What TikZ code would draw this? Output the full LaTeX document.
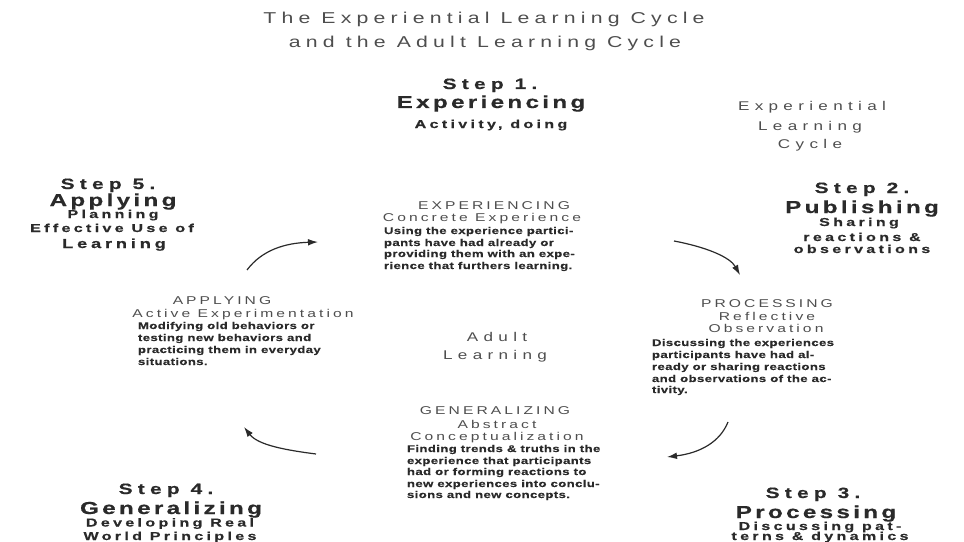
\documentclass[tikz,border=0pt]{standalone}
\usepackage{fontspec}
\usetikzlibrary{arrows.meta}
% Extended, tracked sans faces for the different text levels
\newfontfamily\ttlfont[FakeStretch=1.35,LetterSpace=33]{Liberation Sans}
\newfontfamily\wideface[FakeStretch=1.35,LetterSpace=42]{Liberation Sans}
\newfontfamily\headface[FakeStretch=1.38,LetterSpace=27]{Liberation Sans}
\newfontfamily\stepface[FakeStretch=1.4,LetterSpace=35,BoldFeatures={FakeBold=0.6}]{Liberation Sans}
\newfontfamily\nameface[FakeStretch=1.4,LetterSpace=19,BoldFeatures={FakeBold=0.6}]{Liberation Sans}
\newfontfamily\subface[FakeStretch=1.4,LetterSpace=29,BoldFeatures={FakeBold=0.5}]{Liberation Sans}
\newfontfamily\bodyface[FakeStretch=1.35,LetterSpace=4,BoldFeatures={FakeBold=0.4}]{Liberation Sans}
\definecolor{ink}{HTML}{2A2A2A}
\definecolor{greyink}{HTML}{4E4E4E}
\tikzset{
  every node/.style={inner sep=0pt, outer sep=0pt},
  titletext/.style={anchor=base, text=greyink, font=\ttlfont\fontsize{11.8}{14}\selectfont},
  widetext/.style={anchor=base, text=greyink, font=\wideface\fontsize{9.5}{11}\selectfont},
  headtext/.style={anchor=base, text=greyink, font=\headface\fontsize{8.5}{10}\selectfont},
  steptext/.style={anchor=base, text=ink, font=\stepface\bfseries\fontsize{11.2}{13}\selectfont},
  nametext/.style={anchor=base, text=ink, font=\nameface\bfseries\fontsize{13}{15}\selectfont},
  subtext/.style={anchor=base, text=ink, font=\subface\bfseries\fontsize{8.6}{10}\selectfont},
  bodytext/.style={anchor=base west, text=ink, font=\bodyface\bfseries\fontsize{7.3}{9}\selectfont},
  cyclearrow/.style={draw=ink, line width=0.9pt, -{Latex[length=7.5pt,width=5pt]}}
}
\begin{document}
\begin{tikzpicture}[x=0.75pt,y=-0.75pt]
\useasboundingbox (0,0) rectangle (964,542);

% Title
\node[titletext] (t1) at (484,24) {The Experiential Learning Cycle};
\node[titletext] (t2) at (485,48) {and the Adult Learning Cycle};

% Outer label
\node[widetext] (x1) at (812,110) {Experiential};
\node[widetext] (x2) at (810,130) {Learning};
\node[widetext] (x3) at (810,148) {Cycle};

% Inner label
\node[widetext] (ad1) at (497,341) {Adult};
\node[widetext] (ad2) at (495,359) {Learning};

% Step 1
\node[steptext] (s1a) at (490,89) {Step 1.};
\node[nametext] (s1b) at (491,108) {Experiencing};
\node[subtext]  (s1c) at (491,128) {Activity, doing};

% Step 2
\node[steptext] (s2a) at (862,193) {Step 2.};
\node[nametext] (s2b) at (862,213) {Publishing};
\node[subtext]  (s2c) at (859,226) {Sharing};
\node[subtext]  (s2d) at (862,241) {reactions \&};
\node[subtext]  (s2e) at (862,253) {observations};

% Step 3
\node[steptext] (s3a) at (813,498) {Step 3.};
\node[nametext] (s3b) at (816,518) {Processing};
\node[subtext]  (s3c) at (820,530) {Discussing pat-};
\node[subtext]  (s3d) at (820,540) {terns \& dynamics};

% Step 4
\node[steptext] (s4a) at (166,494) {Step 4.};
\node[nametext] (s4b) at (171,514) {Generalizing};
\node[subtext]  (s4c) at (170,526.5) {Developing Real};
\node[subtext]  (s4d) at (170,540) {World Principles};

% Step 5
\node[steptext] (s5a) at (108,189) {Step 5.};
\node[nametext] (s5b) at (113,206) {Applying};
\node[subtext]  (s5c) at (113,218) {Planning};
\node[subtext]  (s5d) at (112,232) {Effective Use of};
\node[subtext, font=\subface\bfseries\fontsize{9.8}{12}\selectfont] (s5e) at (114,248) {Learning};

% Experiencing
\node[headtext] (eh1) at (494,209) {EXPERIENCING};
\node[headtext] (eh2) at (482,221) {Concrete Experience};
\node[bodytext] (eb1) at (384,234) {Using the experience partici-};
\node[bodytext] (eb2) at (384,246) {pants have had already or};
\node[bodytext] (eb3) at (384,257) {providing them with an expe-};
\node[bodytext] (eb4) at (384,269) {rience that furthers learning.};

% Processing
\node[headtext] (ph1) at (767,307) {PROCESSING};
\node[headtext] (ph2) at (767,320) {Reflective};
\node[headtext] (ph3) at (766,332) {Observation};
\node[bodytext] (pb1) at (652,346) {Discussing the experiences};
\node[bodytext] (pb2) at (652,358) {participants have had al-};
\node[bodytext] (pb3) at (652,370) {ready or sharing reactions};
\node[bodytext] (pb4) at (652,382) {and observations of the ac-};
\node[bodytext] (pb5) at (652,393) {tivity.};

% Generalizing
\node[headtext] (gh1) at (495,414) {GENERALIZING};
\node[headtext] (gh2) at (497,428) {Abstract};
\node[headtext] (gh3) at (497,440) {Conceptualization};
\node[bodytext] (gb1) at (407,452) {Finding trends \& truths in the};
\node[bodytext] (gb2) at (407,464) {experience that participants};
\node[bodytext] (gb3) at (407,475) {had or forming reactions to};
\node[bodytext] (gb4) at (407,487) {new experiences into conclu-};
\node[bodytext] (gb5) at (407,498) {sions and new concepts.};

% Applying
\node[headtext] (ah1) at (222,304) {APPLYING};
\node[headtext] (ah2) at (243,317) {Active Experimentation};
\node[bodytext] (ab1) at (138,329) {Modifying old behaviors or};
\node[bodytext] (ab2) at (138,341) {testing new behaviors and};
\node[bodytext] (ab3) at (138,353) {practicing them in everyday};
\node[bodytext] (ab4) at (138,365) {situations.};

% Cycle arrows
\coordinate (a1s) at (247,270);
\coordinate (a1e) at (318,242);
\coordinate (a2s) at (674,241);
\coordinate (a2e) at (740,275);
\coordinate (a3s) at (728,422);
\coordinate (a3e) at (667,457);
\coordinate (a4s) at (316,454);
\coordinate (a4e) at (244,427);
\draw[cyclearrow] (a1s) .. controls (262,250) and (285,243) .. (a1e);
\draw[cyclearrow] (a2s) .. controls (706,247) and (730,257) .. (a2e);
\draw[cyclearrow] (a3s) .. controls (720,442) and (700,453) .. (a3e);
\draw[cyclearrow] (a4s) .. controls (285,450) and (258,445) .. (a4e);
\end{tikzpicture}
\end{document}
